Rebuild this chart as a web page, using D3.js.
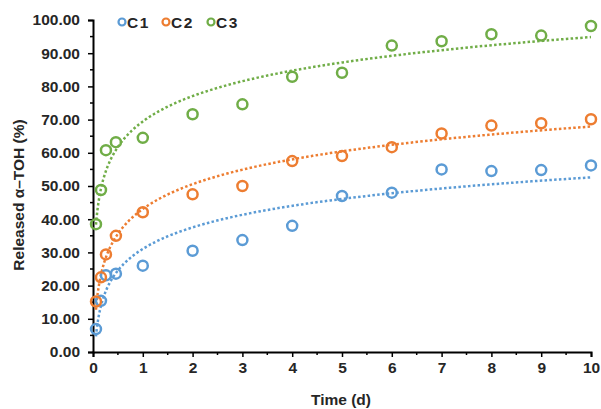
<!DOCTYPE html>
<html><head><meta charset="utf-8">
<script src="https://cdn.jsdelivr.net/npm/d3@7/dist/d3.min.js"></script>
<style>
body{margin:0;background:#fff;}
text{font-family:Arial,"Liberation Sans",sans-serif;font-weight:bold;fill:#262626;}
</style></head>
<body><svg id="c" width="601" height="409"></svg>
<script>
const times = [0.06, 0.16, 0.26, 0.46, 1, 2, 3, 4, 5, 6, 7, 8, 9, 10];
const seriesNames = ["C1", "C2", "C3"];
const c1 = [6.9, 15.4, 23.1, 23.6, 26.0, 30.5, 33.7, 38.0, 47.0, 48.0, 55.0, 54.5, 54.8, 56.2];
const c2 = [15.2, 22.5, 29.4, 35.0, 42.1, 47.5, 50.0, 57.5, 59.0, 61.7, 65.8, 68.2, 68.9, 70.1];
const c3 = [38.5, 48.8, 60.8, 63.2, 64.5, 71.6, 74.6, 82.9, 84.1, 92.3, 93.6, 95.7, 95.3, 98.2];
const colors = ["#5B9BD5", "#ED7D31", "#70AD47"];
const xTicks = [0,1,2,3,4,5,6,7,8,9,10];
const yTicks = [0,10,20,30,40,50,60,70,80,90,100];

const svg = d3.select("#c");
const x = d3.scaleLinear().domain([0,10]).range([93,591]);
const y = d3.scaleLinear().domain([0,100]).range([352,20]);
const series = [c1,c2,c3];

// minor ticks
svg.append("g").selectAll("line").data(d3.range(0.5,10,1)).join("line")
  .attr("x1",d=>x(d)).attr("x2",d=>x(d)).attr("y1",y(0)).attr("y2",y(0)+3)
  .attr("stroke","#000").attr("stroke-width",1.5);
svg.append("g").selectAll("line").data(d3.range(5,100,10)).join("line")
  .attr("y1",d=>y(d)).attr("y2",d=>y(d)).attr("x1",x(0)).attr("x2",x(0)-3)
  .attr("stroke","#000").attr("stroke-width",1.5);

const xa = svg.append("g").attr("transform",`translate(0,${y(0)})`)
  .call(d3.axisBottom(x).tickValues(xTicks).tickFormat(d3.format("d")).tickSizeOuter(0).tickSize(5).tickPadding(5));
const ya = svg.append("g").attr("transform",`translate(${x(0)},0)`)
  .call(d3.axisLeft(y).tickValues(yTicks).tickFormat(d3.format(".2f")).tickSizeOuter(0).tickSize(5).tickPadding(8));
[xa,ya].forEach(a=>{
  a.select(".domain").attr("stroke","#000").attr("stroke-width",2);
  a.selectAll(".tick line").attr("stroke","#000").attr("stroke-width",1.5);
  a.selectAll(".tick text").attr("font-size","15.5px").attr("fill","#262626").attr("font-family","Arial, 'Liberation Sans', sans-serif").attr("font-weight","bold");
});

// log trendlines (least squares on ln t)
const lx = times.map(Math.log);
series.forEach((s,i)=>{
  const mx = d3.mean(lx), my = d3.mean(s);
  let sxy=0,sxx=0;
  lx.forEach((v,k)=>{sxy+=(v-mx)*(s[k]-my);sxx+=(v-mx)*(v-mx);});
  const a = sxy/sxx, b = my - a*mx;
  const tt = d3.range(0,201).map(k=>Math.exp(Math.log(times[0])+(Math.log(10)-Math.log(times[0]))*k/200));
  svg.append("path").datum(tt)
    .attr("d", d3.line().x(t=>x(t)).y(t=>y(a*Math.log(t)+b)).curve(d3.curveLinear))
    .attr("fill","none").attr("stroke",colors[i]).attr("stroke-width",2.5)
    .attr("stroke-dasharray","2.5,2.3");
});

series.forEach((s,i)=>{
  svg.append("g").selectAll("circle").data(s).join("circle")
    .attr("cx",(d,k)=>x(times[k])).attr("cy",d=>y(d)).attr("r",5)
    .attr("fill","none").attr("stroke",colors[i]).attr("stroke-width",2.5);
});

// legend
const legX = [122, 166, 211];
seriesNames.forEach((n,i)=>{
  svg.append("circle").attr("cx",legX[i]).attr("cy",22).attr("r",3.5)
    .attr("fill","none").attr("stroke",colors[i]).attr("stroke-width",2.2);
  svg.append("text").attr("x",legX[i]+5).attr("y",27.5).attr("font-size","15.5px")
    .attr("letter-spacing","1.5px").text(n);
});

svg.append("text").attr("x",341).attr("y",405).attr("text-anchor","middle")
  .attr("font-size","15.5px").text("Time (d)");
svg.append("text").attr("transform","translate(23.5,195) rotate(-90)").attr("text-anchor","middle")
  .attr("font-size","15.5px").text("Released α–TOH (%)");
</script></body></html>
